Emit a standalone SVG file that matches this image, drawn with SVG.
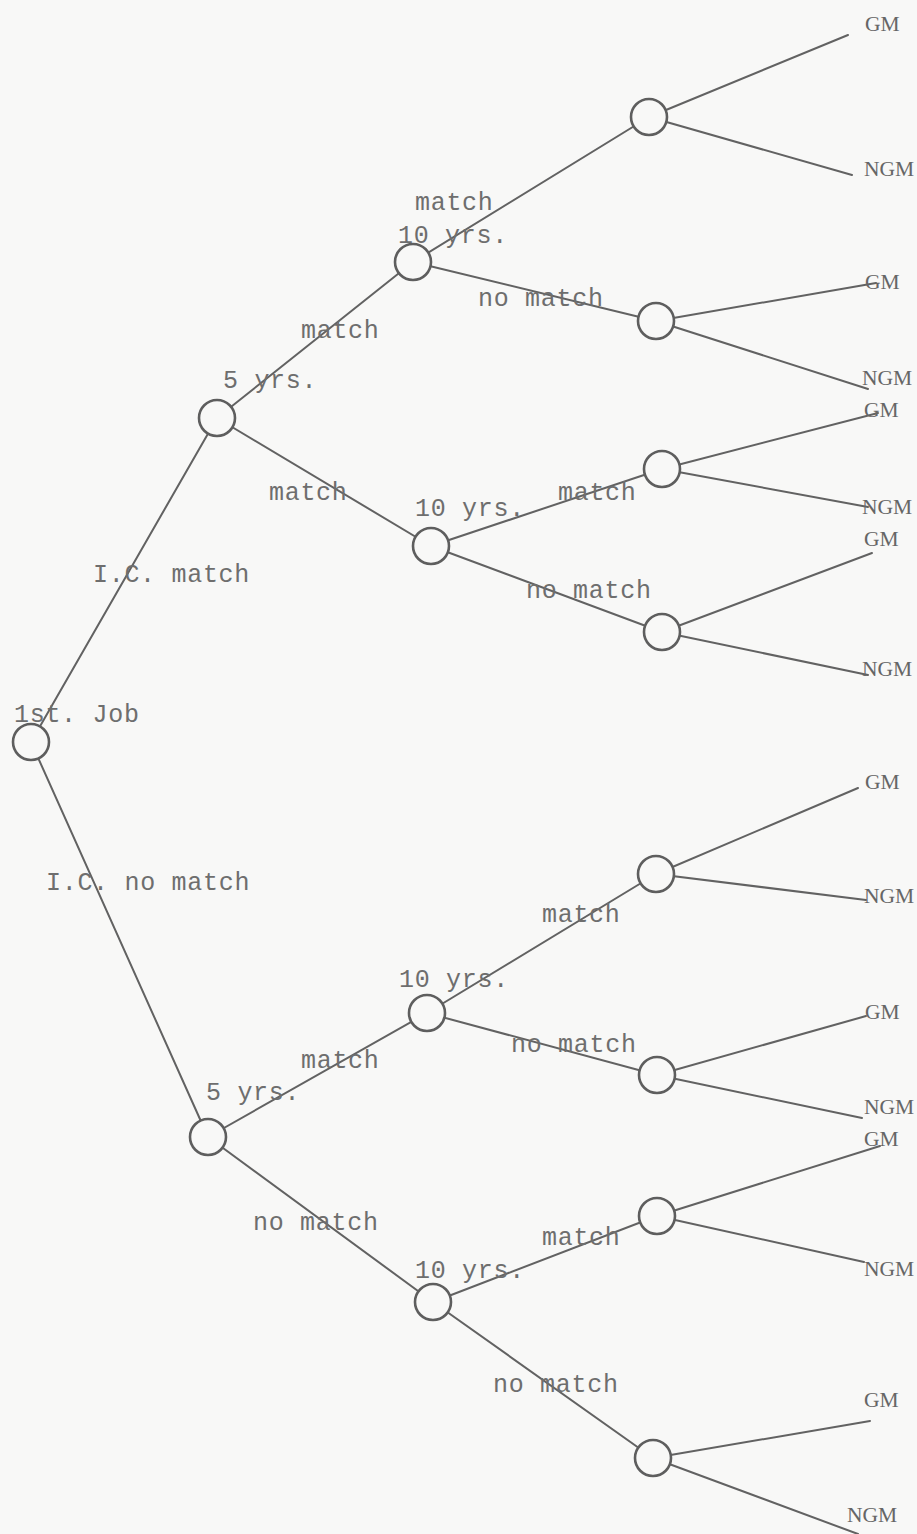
<svg xmlns="http://www.w3.org/2000/svg" width="917" height="1534" viewBox="0 0 917 1534">
<style>
.bg{fill:#f8f8f7}
.e line{stroke:#626262;stroke-width:2;stroke-linecap:round}
.n circle{fill:#f8f8f7;stroke:#5e5e5e;stroke-width:2.6}
.t{font-family:"Liberation Mono",monospace;font-size:25px;fill:#6e6e6e;letter-spacing:0.7px}
.o{font-family:"Liberation Serif",serif;font-size:21.5px;fill:#666}
</style>
<rect class="bg" x="0" y="0" width="917" height="1534"/>
<g id="connectors" class="e">
<line x1="31" y1="742" x2="217" y2="418"/>
<line x1="31" y1="742" x2="208" y2="1137"/>
<line x1="217" y1="418" x2="413" y2="262"/>
<line x1="217" y1="418" x2="431" y2="546"/>
<line x1="413" y1="262" x2="649" y2="117"/>
<line x1="413" y1="262" x2="656" y2="321"/>
<line x1="431" y1="546" x2="662" y2="469"/>
<line x1="431" y1="546" x2="662" y2="632"/>
<line x1="208" y1="1137" x2="427" y2="1013"/>
<line x1="208" y1="1137" x2="433" y2="1302"/>
<line x1="427" y1="1013" x2="656" y2="874"/>
<line x1="427" y1="1013" x2="657" y2="1075"/>
<line x1="433" y1="1302" x2="657" y2="1216"/>
<line x1="433" y1="1302" x2="653" y2="1458"/>
<line x1="649" y1="117" x2="848" y2="35"/>
<line x1="649" y1="117" x2="852" y2="175"/>
<line x1="656" y1="321" x2="876" y2="283"/>
<line x1="656" y1="321" x2="868" y2="389"/>
<line x1="662" y1="469" x2="878" y2="413"/>
<line x1="662" y1="469" x2="868" y2="507"/>
<line x1="662" y1="632" x2="872" y2="553"/>
<line x1="662" y1="632" x2="868" y2="675"/>
<line x1="656" y1="874" x2="858" y2="788"/>
<line x1="656" y1="874" x2="866" y2="900"/>
<line x1="657" y1="1075" x2="866" y2="1016"/>
<line x1="657" y1="1075" x2="862" y2="1118"/>
<line x1="657" y1="1216" x2="880" y2="1146"/>
<line x1="657" y1="1216" x2="864" y2="1262"/>
<line x1="653" y1="1458" x2="870" y2="1421"/>
<line x1="653" y1="1458" x2="858" y2="1534"/>
</g>
<g id="root" class="n"><circle cx="31" cy="742" r="18"/><text class="t" x="14" y="722">1st. Job</text></g>
<g id="u5" class="n"><circle cx="217" cy="418" r="18"/><text class="t" x="223" y="388">5 yrs.</text></g>
<g id="u10a" class="n"><circle cx="413" cy="262" r="18"/><text class="t" x="398" y="243">10 yrs.</text></g>
<g id="u10b" class="n"><circle cx="431" cy="546" r="18"/><text class="t" x="415" y="516">10 yrs.</text></g>
<g id="l5" class="n"><circle cx="208" cy="1137" r="18"/><text class="t" x="206" y="1100">5 yrs.</text></g>
<g id="l10a" class="n"><circle cx="427" cy="1013" r="18"/><text class="t" x="399" y="987">10 yrs.</text></g>
<g id="l10b" class="n"><circle cx="433" cy="1302" r="18"/><text class="t" x="415" y="1278">10 yrs.</text></g>
<g id="c1" class="n"><circle cx="649" cy="117" r="18"/></g>
<g id="c2" class="n"><circle cx="656" cy="321" r="18"/></g>
<g id="c3" class="n"><circle cx="662" cy="469" r="18"/></g>
<g id="c4" class="n"><circle cx="662" cy="632" r="18"/></g>
<g id="c5" class="n"><circle cx="656" cy="874" r="18"/></g>
<g id="c6" class="n"><circle cx="657" cy="1075" r="18"/></g>
<g id="c7" class="n"><circle cx="657" cy="1216" r="18"/></g>
<g id="c8" class="n"><circle cx="653" cy="1458" r="18"/></g>
<g id="edge-labels">
<text class="t" x="93" y="582">I.C. match</text>
<text class="t" x="46" y="890">I.C. no match</text>
<text class="t" x="301" y="338">match</text>
<text class="t" x="269" y="500">match</text>
<text class="t" x="415" y="210">match</text>
<text class="t" x="478" y="306">no match</text>
<text class="t" x="558" y="500">match</text>
<text class="t" x="526" y="598">no match</text>
<text class="t" x="542" y="922">match</text>
<text class="t" x="511" y="1052">no match</text>
<text class="t" x="301" y="1068">match</text>
<text class="t" x="253" y="1230">no match</text>
<text class="t" x="542" y="1245">match</text>
<text class="t" x="493" y="1392">no match</text>
</g>
<g id="outcomes">
<text class="o" x="865" y="31">GM</text>
<text class="o" x="864" y="176">NGM</text>
<text class="o" x="865" y="289">GM</text>
<text class="o" x="862" y="385">NGM</text>
<text class="o" x="864" y="417">GM</text>
<text class="o" x="862" y="514">NGM</text>
<text class="o" x="864" y="546">GM</text>
<text class="o" x="862" y="676">NGM</text>
<text class="o" x="865" y="789">GM</text>
<text class="o" x="864" y="903">NGM</text>
<text class="o" x="865" y="1019">GM</text>
<text class="o" x="864" y="1114">NGM</text>
<text class="o" x="864" y="1146">GM</text>
<text class="o" x="864" y="1276">NGM</text>
<text class="o" x="864" y="1407">GM</text>
<text class="o" x="847" y="1522">NGM</text>
</g>
</svg>
